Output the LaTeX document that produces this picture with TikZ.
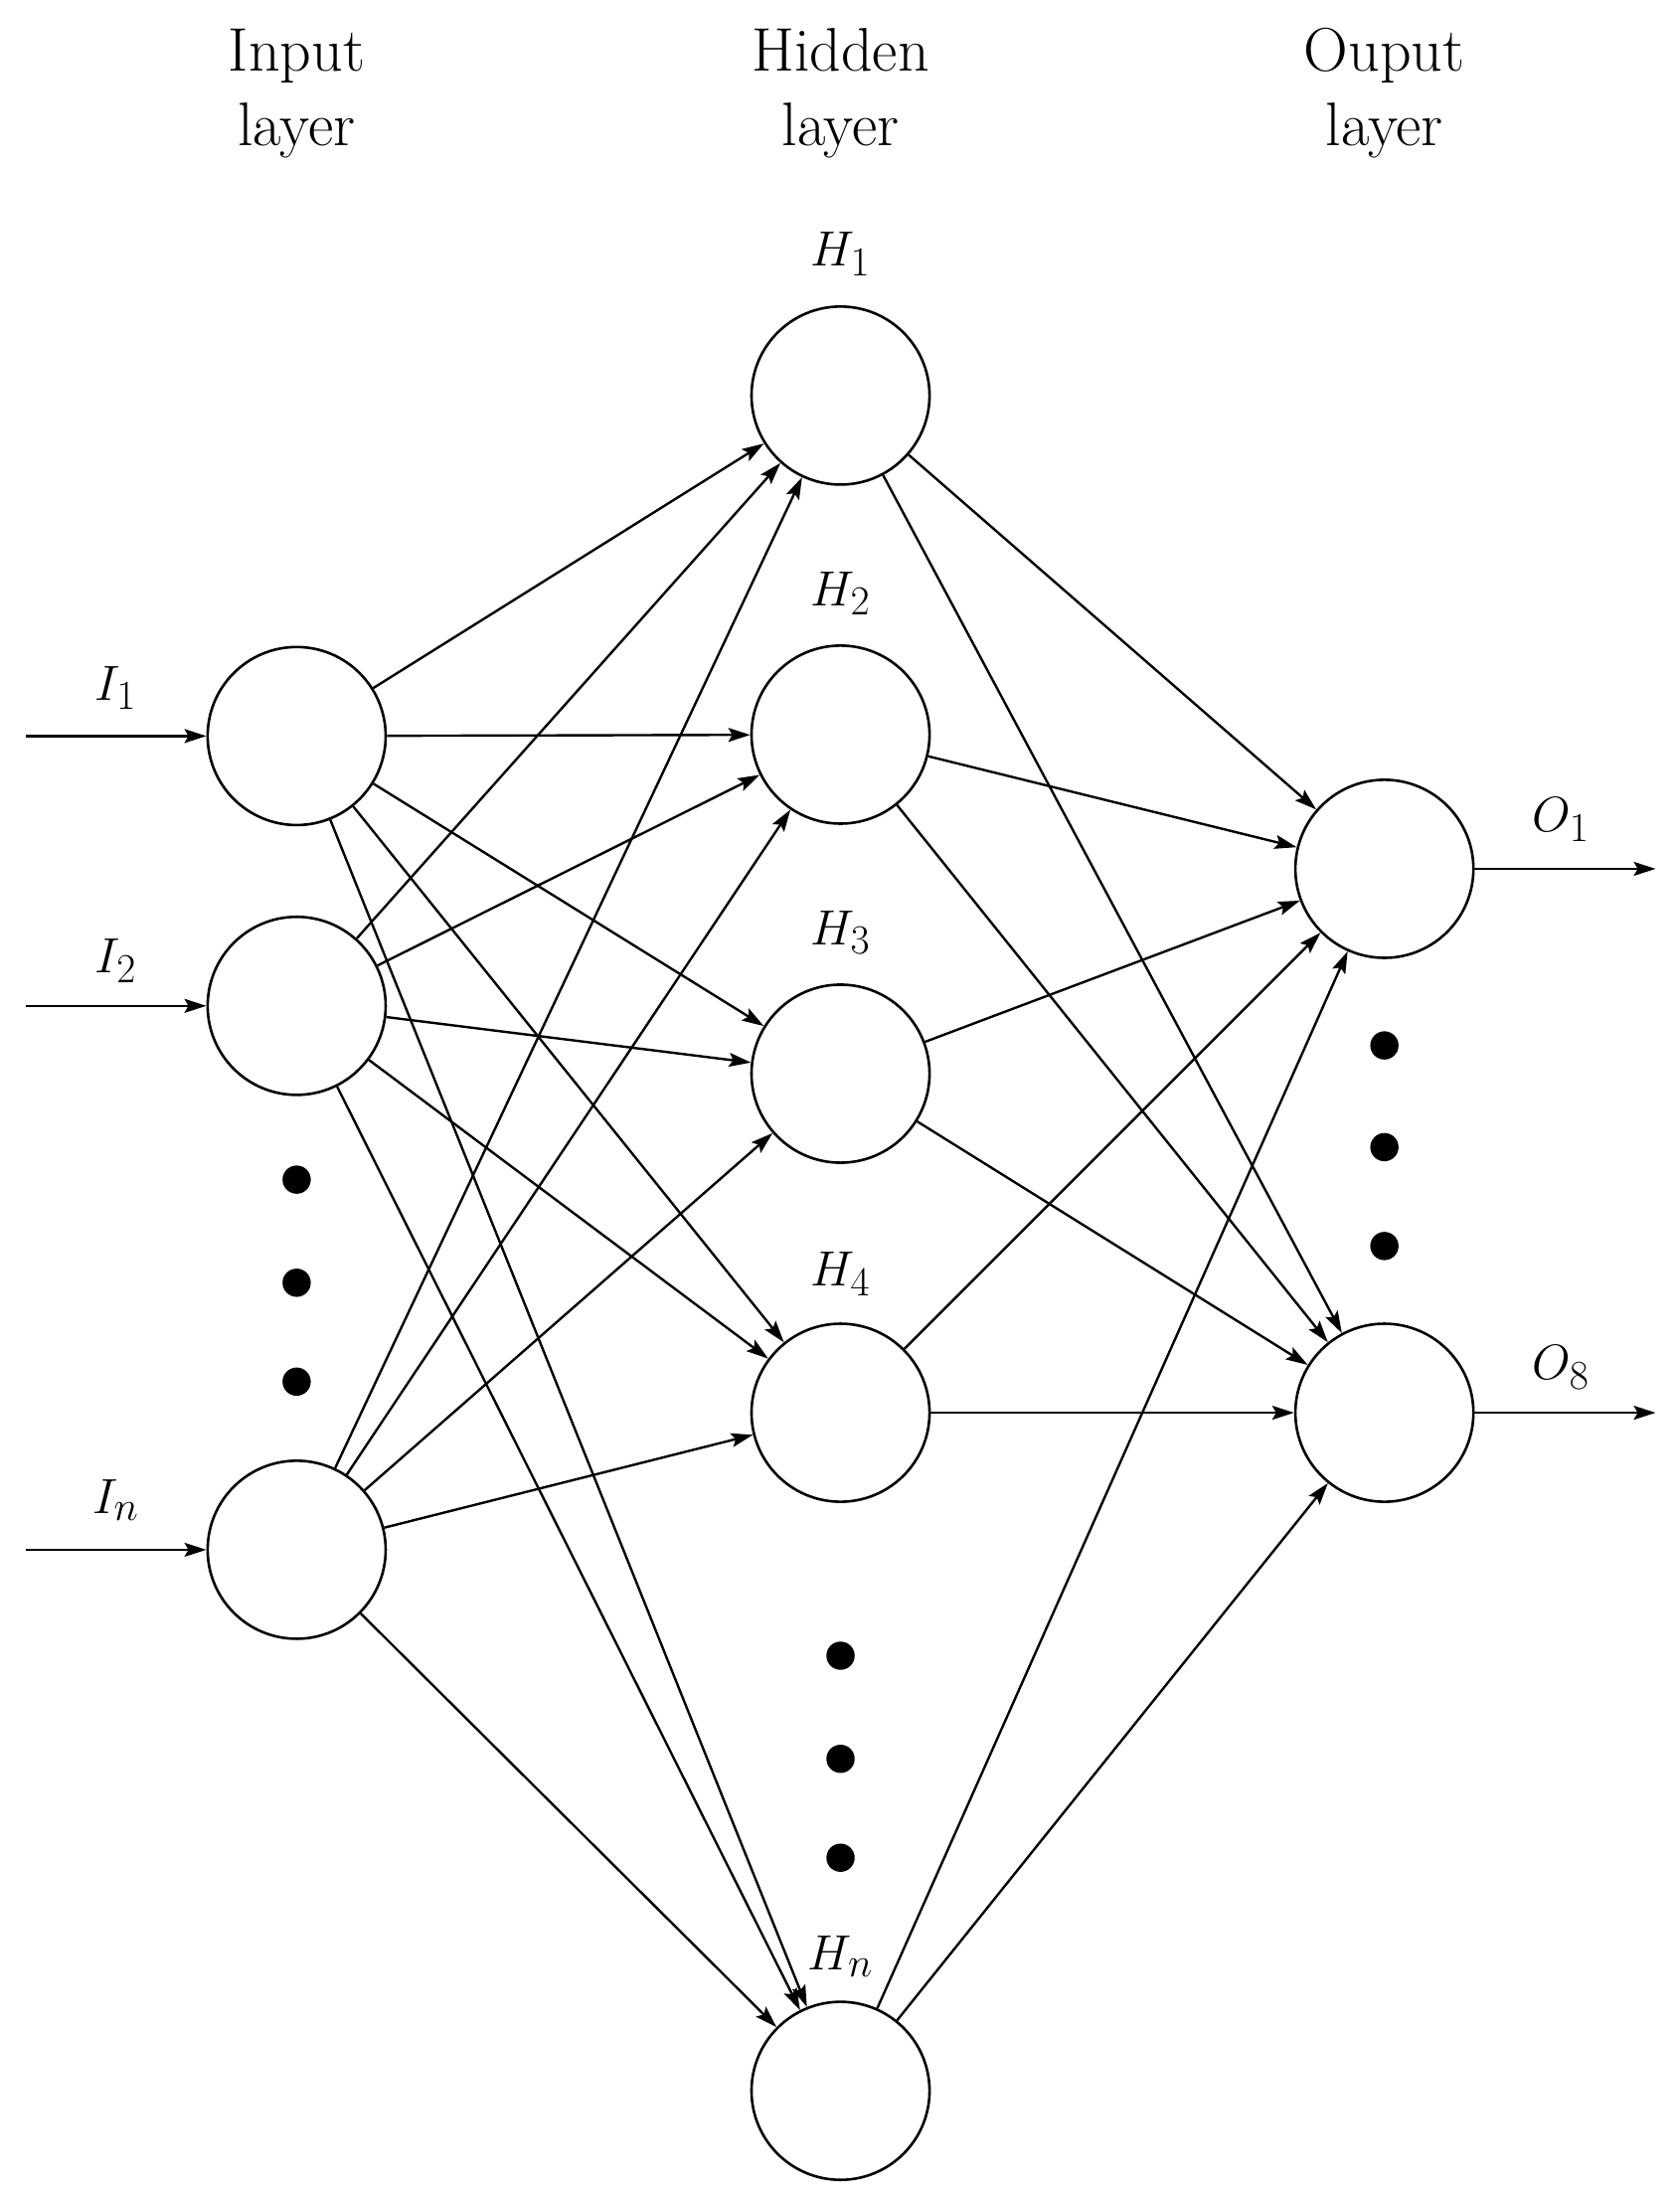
\documentclass[tikz,border=0pt]{standalone}
\usetikzlibrary{arrows.meta}
\begin{document}
\begin{tikzpicture}[x=0.025cm,y=-0.025cm,
  neuron/.style={circle,draw,line width=1.3pt,minimum size=3.15cm,inner sep=0pt},
  conn/.style={line width=1.2pt,-{Stealth[length=11pt,width=7pt,inset=2pt]}},
  dot/.style={circle,fill,inner sep=0pt,minimum size=0.5cm},
  lab/.style={font=\fontsize{30}{36}\selectfont},
  head/.style={font=\fontsize{31}{37.6}\selectfont,align=center}]
\useasboundingbox (0,0) rectangle (1189,1558);
\node[neuron] (I1) at (210,521) {};
\node[neuron] (I2) at (210,712) {};
\node[neuron] (In) at (210,1097) {};
\node[neuron] (H1) at (595,280) {};
\node[neuron] (H2) at (595,520) {};
\node[neuron] (H3) at (595,760) {};
\node[neuron] (H4) at (595,1000) {};
\node[neuron] (Hn) at (595,1480) {};
\node[neuron] (O1) at (980,615) {};
\node[neuron] (O8) at (980,1000) {};
\foreach \y [count=\i] in {835,908,978} \node[dot] (di\i) at (210,\y) {};
\foreach \y [count=\i] in {740,812,882} \node[dot] (do\i) at (980,\y) {};
\foreach \y [count=\i] in {1172,1245,1315} \node[dot] (dh\i) at (595,\y) {};
\node[head] (t1) at (210,66) {Input\\layer};
\node[head] (t2) at (595,66) {Hidden\\layer};
\node[head] (t3) at (980,66) {Ouput\\layer};
\node[lab] (lI1) at (82,487) {$I_1$};
\node[lab] (lI2) at (82,680) {$I_2$};
\node[lab] (lIn) at (82,1062) {$I_n$};
\node[lab] (lH1) at (595,180) {$H_1$};
\node[lab] (lH2) at (595,420) {$H_2$};
\node[lab] (lH3) at (595,660) {$H_3$};
\node[lab] (lH4) at (595,902) {$H_4$};
\node[lab] (lHn) at (595,1385) {$H_n$};
\node[lab] (lO1) at (1105,580) {$O_1$};
\node[lab] (lO8) at (1105,968) {$O_8$};
\coordinate (a1) at (18,521);
\coordinate (a2) at (18,712);
\coordinate (a3) at (18,1097);
\coordinate (b1) at (1172,615);
\coordinate (b2) at (1172,1000);
\draw[conn] (a1) -- (I1);
\draw[conn] (a2) -- (I2);
\draw[conn] (a3) -- (In);
\draw[conn] (O1) -- (b1);
\draw[conn] (O8) -- (b2);
\foreach \i in {I1,I2,In}
  \foreach \h in {H1,H2,H3,H4,Hn}
    \draw[conn] (\i) -- (\h);
\foreach \h in {H1,H2,H3,H4,Hn}
  \foreach \o in {O1,O8}
    \draw[conn] (\h) -- (\o);
\end{tikzpicture}
\end{document}
